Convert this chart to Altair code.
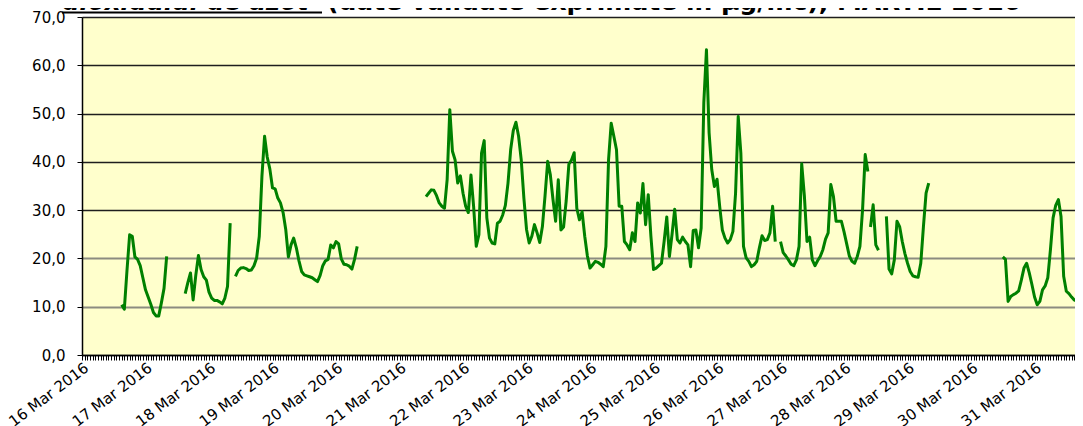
import json
import pandas as pd
import altair as alt

# ---------------- data (hourly NO2, µg/mc) ----------------
t0 = pd.Timestamp("2016-03-16 00:00")

seg_starts = [
    "2016-03-16 15:00",
    "2016-03-17 15:00",
    "2016-03-18 10:00",
    "2016-03-21 10:00",
    "2016-03-27 00:00",
    "2016-03-28 10:00",
    "2016-03-28 16:00",
    "2016-03-30 12:00",
]

seg1 = [10.4, 9.5, 17.5, 24.9, 24.6, 20.3, 19.8, 18.5, 16.0, 13.5, 12.0, 10.5,
        8.8, 8.1, 8.1, 10.8, 13.8, 20.4]
seg2 = [12.7, 15.0, 17.0, 11.4, 16.5, 20.6, 17.7, 16.2, 15.5, 13.0, 11.8, 11.3,
        11.3, 11.0, 10.6, 11.8, 14.2, 27.3]
seg3 = [16.3, 17.5, 18.0, 18.1, 17.9, 17.5, 17.6, 18.5, 20.1, 24.6, 37.0, 45.3,
        41.0, 38.5, 34.6, 34.4, 32.5, 31.5, 29.5, 26.0, 20.3, 22.8, 24.2, 22.2,
        19.5, 17.3, 16.6, 16.4, 16.2, 16.0, 15.6, 15.2, 16.5, 18.5, 19.5, 19.8,
        22.8, 22.2, 23.5, 23.0, 19.9, 18.8, 18.7, 18.4, 17.8, 19.8, 22.5]
seg4 = [32.8, 33.5, 34.2, 34.1, 33.0, 31.5, 30.8, 30.4, 36.3, 50.8, 42.2, 40.4,
        35.6, 37.1, 33.5, 30.8, 29.5, 37.3, 30.8, 22.5, 24.9, 41.8, 44.4, 28.4,
        24.2, 23.2, 23.0, 27.3, 27.7, 29.0, 31.0, 35.6, 42.5, 46.5, 48.2, 45.3,
        40.4, 32.5, 26.0, 23.2, 24.6, 27.0, 25.3, 23.3, 26.6, 33.0, 40.1, 37.3,
        32.2, 27.7, 36.3, 25.9, 26.5, 32.0, 39.5, 40.4, 41.9, 30.4, 28.0, 29.7,
        24.6, 20.5, 18.0, 18.7, 19.4, 19.2, 18.8, 18.3, 22.5, 40.4, 48.0, 45.3,
        42.5, 30.8, 30.8, 23.5, 22.8, 21.8, 25.3, 23.5, 31.5, 29.4, 35.5, 27.0,
        33.2, 24.6, 17.7, 18.0, 18.5, 19.0, 23.5, 28.6, 20.4, 25.0, 30.2, 23.9,
        23.2, 24.4, 23.5, 22.8, 18.3, 25.8, 25.9, 22.2, 26.3, 52.2, 63.2, 46.0,
        38.4, 34.9, 36.4, 30.8, 25.9, 24.2, 23.2, 23.9, 25.6, 33.5, 49.4, 41.8,
        22.5, 20.1, 19.4, 18.3, 18.7, 19.4, 22.2, 24.7, 23.7, 23.9, 25.3, 30.8,
        23.5]
seg5 = [23.5, 21.2, 20.5, 19.7, 18.8, 18.5, 19.7, 22.5, 39.6, 33.0, 23.5, 24.4,
        19.7, 18.5, 19.5, 20.4, 21.8, 24.0, 25.3, 35.3, 32.8, 27.7, 27.7, 27.7,
        25.5, 23.0, 20.5, 19.4, 19.0, 20.4, 22.5, 30.1, 41.5, 38.0]
seg6 = [26.5, 31.1, 22.8, 21.7]
seg7 = [28.7, 17.8, 16.8, 19.7, 27.7, 26.6, 23.5, 21.0, 19.0, 17.3, 16.4, 16.2,
        16.1, 19.0, 26.6, 33.5, 35.6]
seg8 = [20.3, 19.8, 11.1, 12.1, 12.5, 12.8, 13.3, 15.5, 18.0, 19.0, 17.0, 14.6,
        12.0, 10.4, 11.1, 13.5, 14.3, 16.0, 21.8, 28.4, 31.0, 32.2, 28.7, 16.3,
        13.2, 12.7, 12.0, 11.4, 11.1, 12.5, 27.0]

segments = [seg1, seg2, seg3, seg4, seg5, seg6, seg7, seg8]

day_labels = [f"{d} Mar 2016" for d in range(16, 32)]
y_ticks = [0, 10, 20, 30, 40, 50, 60, 70]

title_part1 = "dioxidului de azot"
title_part2 = "(date validate exprimate în µg/mc), MARTIE 2016"

rows = []
for k, (start, vals) in enumerate(zip(seg_starts, segments)):
    h0 = (pd.Timestamp(start) - t0) / pd.Timedelta(hours=1)
    for i, v in enumerate(vals):
        rows.append({"seg": k, "hour": h0 + i, "no2": v})
df = pd.DataFrame(rows)

PX_PER_HOUR = 2.646
PLOT_W = 993
X_VIS = PLOT_W / PX_PER_HOUR
hour_ticks = list(range(0, 376))

label_expr = (
    "datum.value % 24 == 0 ? " + json.dumps(day_labels) + "[datum.value / 24] : ''"
)

FONT = "DejaVu Sans"

x_axis = alt.Axis(
    values=hour_ticks,
    labelExpr=label_expr,
    labelAngle=-37,
    labelAlign="right",
    labelBaseline="top",
    labelFont=FONT,
    labelFontSize=15,
    labelColor="black",
    labelOverlap=False,
    labelPadding=0,
    tickSize=5,
    tickColor="black",
    tickWidth=1,
    domainColor="black",
    domainWidth=1.5,
    grid=False,
    title=None,
)

y_axis = alt.Axis(
    values=y_ticks,
    labelExpr="replace(format(datum.value, '.1f'), '.', ',')",
    labelFont=FONT,
    labelFontSize=15,
    labelColor="black",
    labelPadding=12,
    tickSize=5,
    tickColor="black",
    domainColor="black",
    domainWidth=1.5,
    grid=True,
    gridColor={"condition": {"test": "datum.value <= 20 && datum.value > 0",
                             "value": "#8c8c80"},
               "value": "#1e1e1e"},
    gridWidth={"condition": {"test": "datum.value <= 20 && datum.value > 0",
                             "value": 2},
               "value": 1.3},
    gridOpacity=1,
    title=None,
)

line = alt.Chart(df).mark_line(
    color="#008000", strokeWidth=3, clip=True, strokeJoin="round", strokeCap="butt"
).encode(
    x=alt.X("hour:Q", scale=alt.Scale(domain=[0, X_VIS], nice=False, zero=False), axis=x_axis),
    y=alt.Y("no2:Q", scale=alt.Scale(domain=[0, 70], nice=False), axis=y_axis),
    detail="seg:N",
)

t1 = alt.Chart(pd.DataFrame({"t": [title_part1]})).mark_text(
    font=FONT, fontSize=24.5, fontWeight="bold", fontStyle="italic",
    align="left", baseline="alphabetic", color="black"
).encode(text="t:N", x=alt.value(-20), y=alt.value(-7))

t2 = alt.Chart(pd.DataFrame({"t": [title_part2]})).mark_text(
    font=FONT, fontSize=25, fontWeight="bold",
    align="left", baseline="alphabetic", color="black"
).encode(text="t:N", x=alt.value(245), y=alt.value(-7))

underline = alt.Chart(pd.DataFrame({"t": [title_part1]})).mark_rule(
    color="black", strokeWidth=2
).encode(x=alt.value(-20), x2=alt.value(240), y=alt.value(-4.5))

chart = alt.layer(line, t1, t2, underline).properties(
    width=PLOT_W,
    height=338,
    padding={"left": 74, "top": 9, "right": 0, "bottom": 71},
    autosize=alt.AutoSizeParams(type="none"),
    background="white",
).configure_view(
    fill="#FFFFCC", stroke=None
)

chart.save("out.html", embed_options={"renderer": "svg", "actions": False})
